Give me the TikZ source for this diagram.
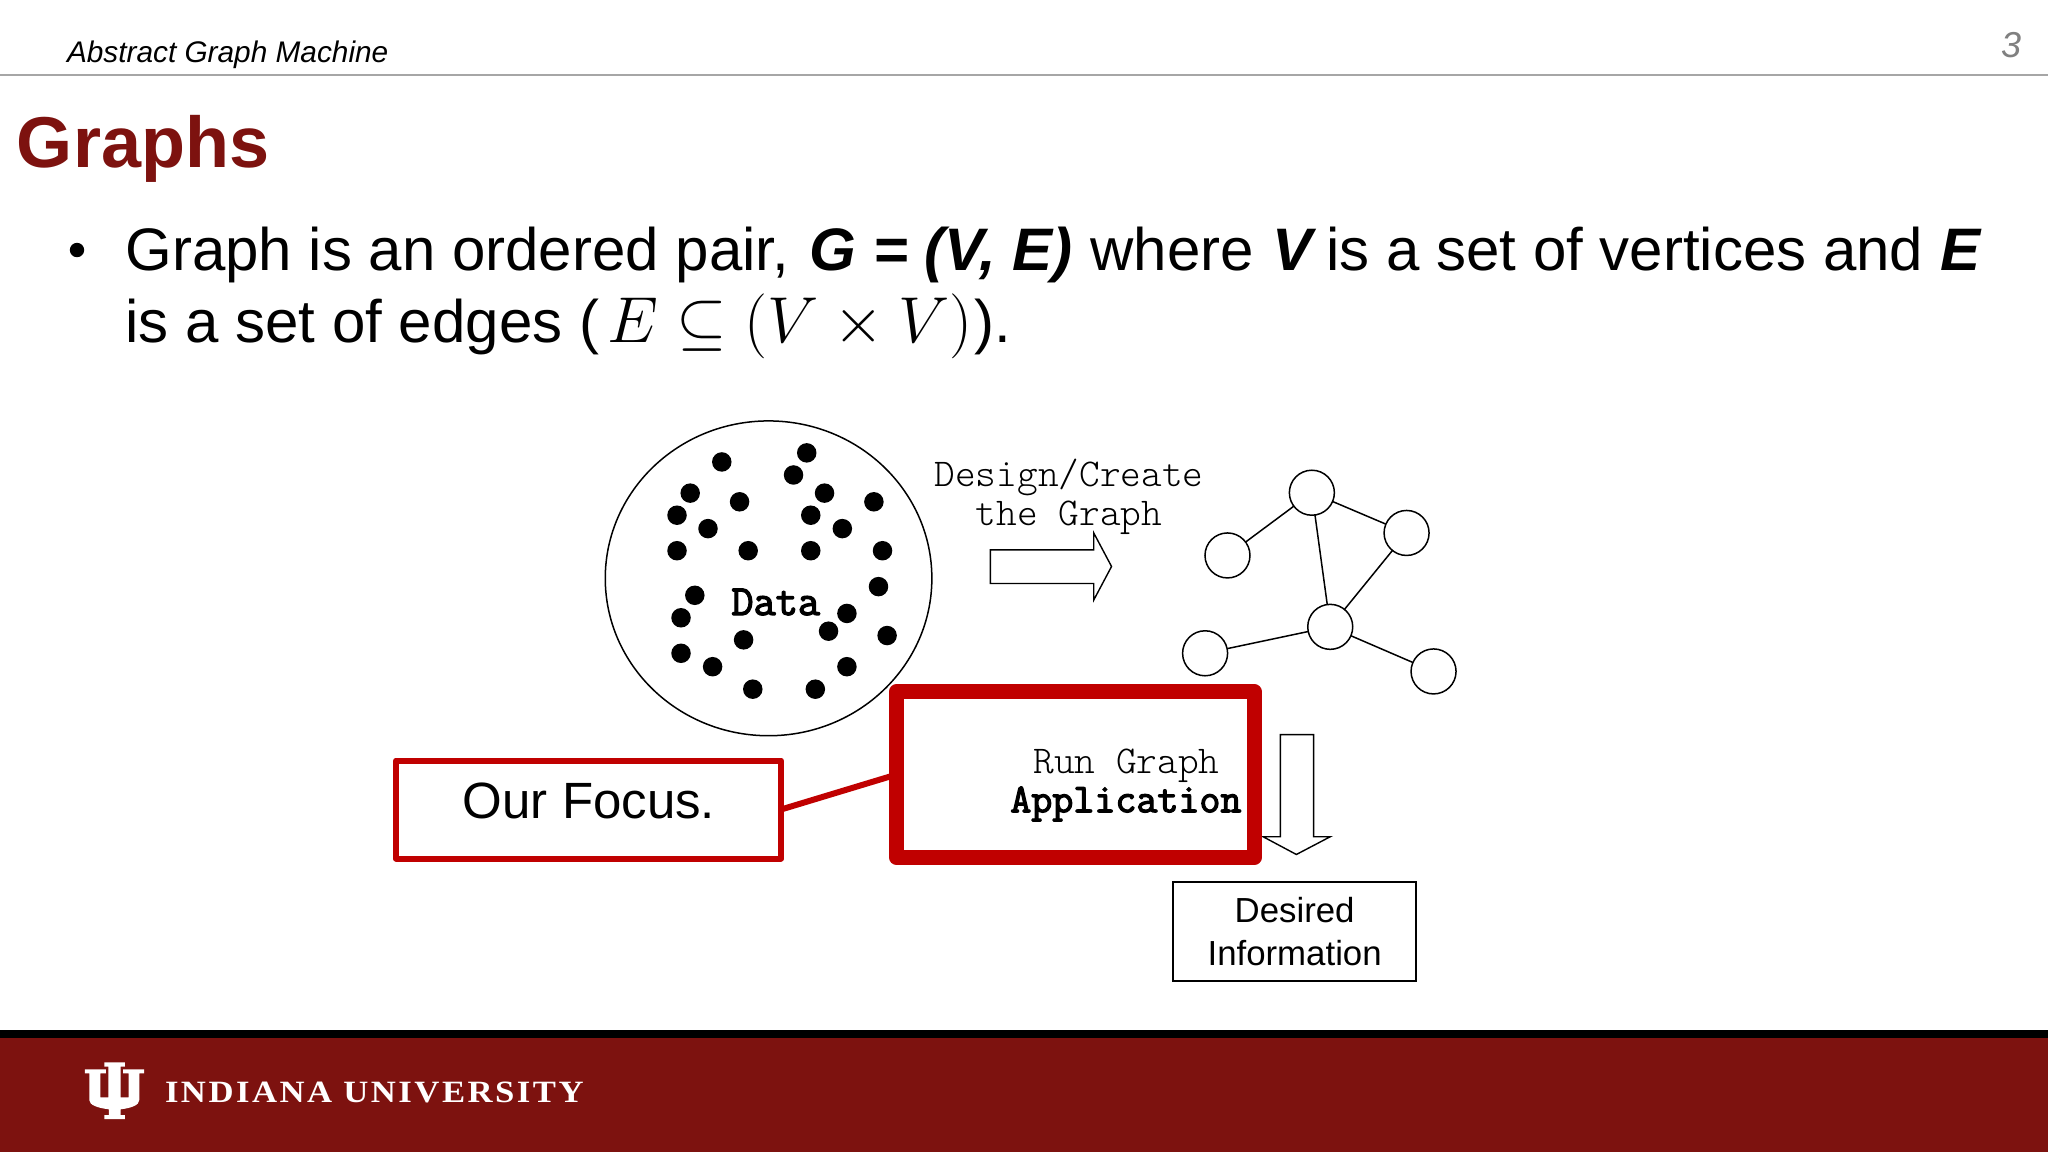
\documentclass[tikz,border=0pt]{standalone}
\usepackage{fontspec}
\usepackage{graphicx}
\setmainfont{Liberation Sans}
\newfontfamily\iufont[LetterSpace=8,FakeStretch=1.12]{Liberation Serif}
\newfontfamily\monolight{Latin Modern Mono Light}
\newfontfamily\monoheavy[FakeBold=3]{Latin Modern Mono}
\usetikzlibrary{shapes.geometric}
\definecolor{iucrim}{HTML}{7D120F}
\definecolor{focusred}{HTML}{C00000}
\tikzset{
  lbl/.style={inner sep=0pt,outer sep=0pt,text=black},
  dotnode/.style={circle,fill=black,inner sep=0pt,minimum size=9.75pt},
  gnode/.style={circle,draw=black,fill=white,line width=.75pt,inner sep=0pt,outer sep=0pt,minimum size=22.5pt},
  gedge/.style={draw=black,line width=.75pt},
  blockarrow/.style={draw=black,line width=.7pt,fill=white,line join=miter},
  monotext/.style={lbl,font=\fontsize{19.7}{23}\selectfont\monolight},
  monobold/.style={lbl,font=\fontsize{20.4}{24}\selectfont\monoheavy},
  body/.style={lbl,anchor=base west,font=\fontsize{30}{36}\selectfont},
}
\begin{document}
\begin{tikzpicture}[x=.5pt,y=-.5pt]
\useasboundingbox (0,0) rectangle (2048,1152);
\fill[white] (0,0) rectangle (2048,1152);
% header
\node[lbl,anchor=base west,font=\fontsize{14.9}{18}\selectfont\itshape] (hdr) at (67,62) {Abstract Graph Machine};
\node[lbl,anchor=base,text=gray,font=\fontsize{18}{22}\selectfont\itshape] (pg) at (2011,57) {3};
\fill[black!35] (0,73.5) rectangle (2048,75.5);
% title
\node[lbl,anchor=base west,text=iucrim,font=\fontsize{36}{42}\selectfont\bfseries] (ttl) at (17,167) {Graphs};
% body
\fill[black] (77,250) circle (7.2);
\node[body] (l1) at (125.5,270) {Graph is an ordered pair,\hspace{2pt} \textbf{\textit{G = (V, E)}}\hspace{.5pt} where\hspace{.8pt} \textbf{\textit{V}}\hspace{-3.3pt} is a set of vertices and \textbf{\textit{E}}};
\node[body] (l2) at (125.5,342) {is a set of edges (\hspace{4pt}{\fontsize{24.88}{30}\selectfont\scalebox{1.305}{$E \subseteq (V \times V)$}}\hspace{1pt}).};
% diagram in zoom coordinates
\begin{scope}[shift={(580,400)},xscale=0.574,yscale=0.3945]
\node[ellipse,draw=black,fill=white,line width=.75pt,inner sep=0pt,outer sep=0pt,minimum width=163.3pt,minimum height=157.4pt] (cloud) at (328.5,452) {};
\foreach \a/\b [count=\i] in {247/157,395/134,372/190,192/236,278/258,426/236,512/258,169/292,402/292,223/326,457/326,169/382,293/382,402/382,527/382,200/495,520/473,176/552,465/541,433/586,535/597,285/608,176/642,231/676,465/676,301/733,410/733}
  \node[dotnode] (d\i) at (\a,\b) {};
\node[monobold,font=\fontsize{21.5}{24}\selectfont\monoheavy] (data) at (341,512) {Data};
\node[monotext] (des1) at (852,196) {Design/Create};
\node[monotext] (des2) at (852,298.5) {the Graph};
\draw[blockarrow] (715,380) -- (895,380) -- (895,337) -- (926,422) -- (895,507) -- (895,465) -- (715,465) -- cycle;
\node[gnode] (gt) at (1275,235) {};
\node[gnode] (gr) at (1440,337) {};
\node[gnode] (gl) at (1128,394) {};
\node[gnode] (gm) at (1307,575) {};
\node[gnode] (gb) at (1089,642) {};
\node[gnode] (gd) at (1487,688) {};
\draw[gedge] (gt) -- (gl);
\draw[gedge] (gt) -- (gr);
\draw[gedge] (gt) -- (gm);
\draw[gedge] (gr) -- (gm);
\draw[gedge] (gm) -- (gb);
\draw[gedge] (gm) -- (gd);
\draw[blockarrow] (1220,848) -- (1278,848) -- (1278,1107) -- (1307,1107) -- (1248,1152) -- (1190,1107) -- (1220,1107) -- cycle;
\node[rectangle,draw=focusred,fill=white,line width=7.25pt,line join=round,inner sep=0pt,outer sep=0pt,minimum width=179pt,minimum height=83pt] (run) at (863,949.5) {};
\node[monotext] (run1) at (952,927) {Run Graph};
\node[monobold] (run2) at (951,1024) {Application};
\node[rectangle,draw=black,fill=white,line width=1pt,inner sep=0pt,outer sep=0pt,minimum width=121.5pt,minimum height=49.5pt,align=center,font=\fontsize{17.4}{21.8}\selectfont] (info) at (1245,1347.5) {Desired\\Information};
\end{scope}
\node[rectangle,draw=focusred,fill=white,line width=3pt,line join=round,inner sep=0pt,outer sep=0pt,minimum width=192.5pt,minimum height=49pt] (focus) at (588.5,809.5) {};
\node[lbl,font=\fontsize{25.5}{30}\selectfont] (focustxt) at (589,800.5) {Our Focus.};
\draw[focusred,line width=3pt] (focus.east) -- (run.west);
% footer
\fill[black] (0,1030) rectangle (2048,1038);
\fill[iucrim] (0,1038) rectangle (2048,1152);
\begin{scope}[shift={(0,1010)},xscale=0.4464,yscale=0.3333]
\fill[white] (234,157) -- (280,157) -- (280,170) -- (270,170) -- (270,262) -- (288,262) -- (288,190) -- (276,190) -- (276,178) -- (323,178) -- (323,190) -- (312,190) -- (312,270) .. controls (312,285) and (295,294) .. (270,298) -- (270,315) -- (280,315) -- (280,327) -- (234,327) -- (234,315) -- (244,315) -- (244,298) .. controls (219,294) and (200,285) .. (200,270) -- (200,190) -- (190,190) -- (190,178) -- (237,178) -- (237,190) -- (225,190) -- (225,262) -- (243,262) -- (243,170) -- (234,170) -- cycle;
\end{scope}
\node[lbl,anchor=base west,text=white,font=\fontsize{15.5}{18}\selectfont\iufont\bfseries] (iu) at (165,1102) {INDIANA UNIVERSITY};
\end{tikzpicture}
\end{document}
